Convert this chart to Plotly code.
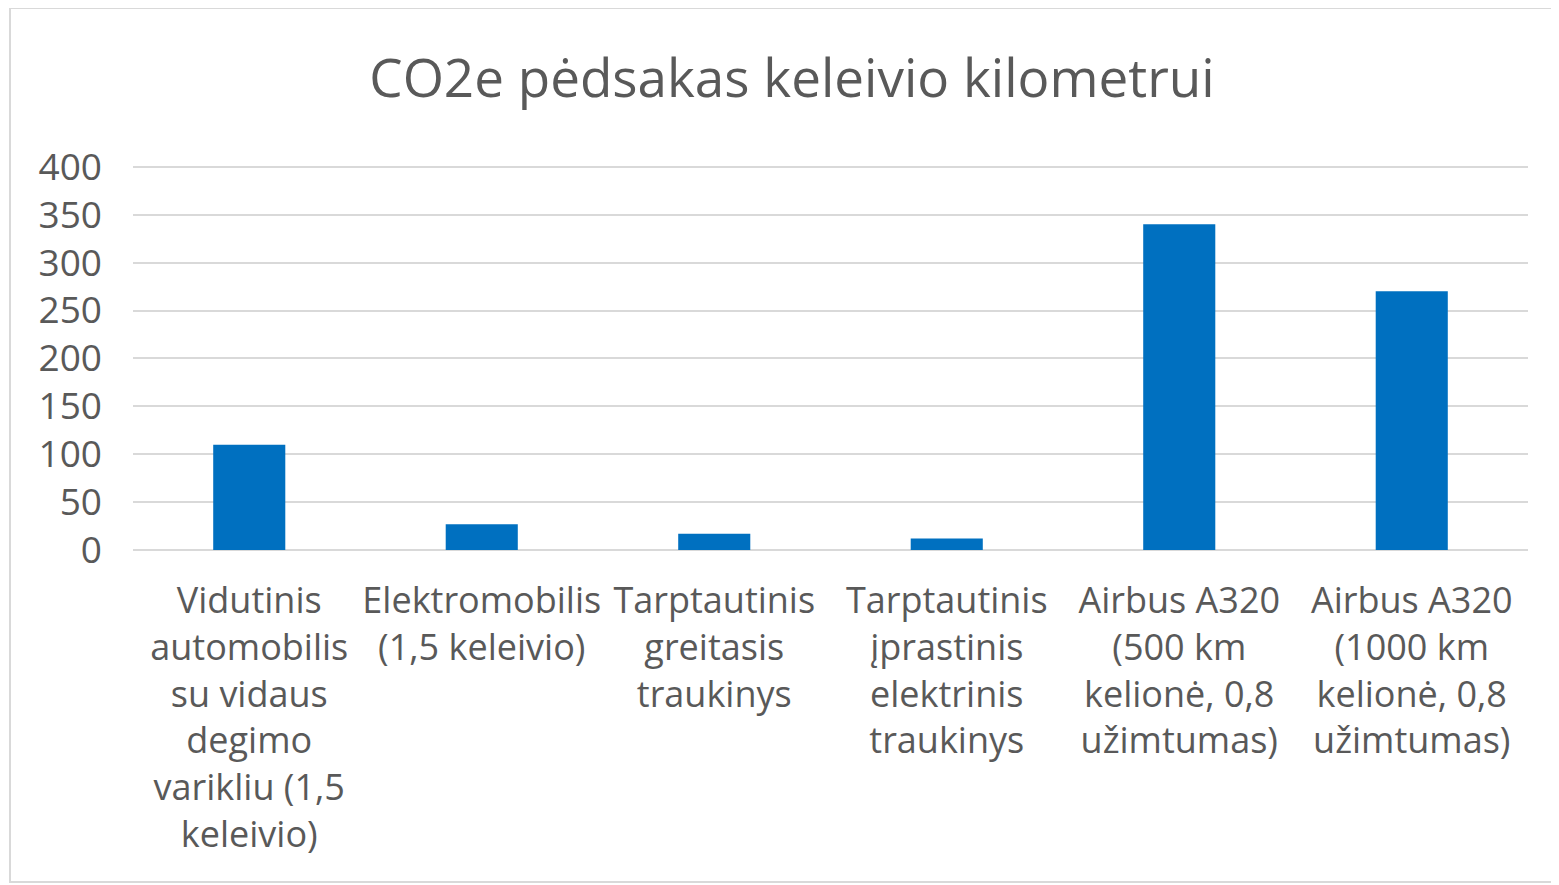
import plotly.graph_objects as go

categories = [
    "Vidutinis<br>automobilis<br>su vidaus<br>degimo<br>varikliu (1,5<br>keleivio)",
    "Elektromobilis<br>(1,5 keleivio)",
    "Tarptautinis<br>greitasis<br>traukinys",
    "Tarptautinis<br>įprastinis<br>elektrinis<br>traukinys",
    "Airbus A320<br>(500 km<br>kelionė, 0,8<br>užimtumas)",
    "Airbus A320<br>(1000 km<br>kelionė, 0,8<br>užimtumas)",
]
values = [110, 27, 17, 12, 340, 270]
y_ticks = [0, 50, 100, 150, 200, 250, 300, 350, 400]
title_text = "CO2e pėdsakas keleivio kilometrui"

FONT = "Open Sans, sans-serif"
TXT = "#595959"

W, H = 1551, 877
L, T, R, B = 125, 155, 31, 335

fig = go.Figure(go.Bar(x=categories, y=values, marker=dict(color="#0070C0", line=dict(width=0))))

fig.update_layout(
    width=W, height=H,
    margin=dict(l=L, r=R, t=T, b=B),
    paper_bgcolor="white", plot_bgcolor="white",
    bargap=0.69,
    showlegend=False,
    title=dict(text=title_text, x=784 / W, xanchor="center", y=1 - 70 / H, yanchor="middle",
               font=dict(family=FONT, size=53, color=TXT)),
    font=dict(family=FONT, size=36, color=TXT),
)
fig.update_yaxes(range=[0, 404], tickvals=y_ticks, showgrid=True, gridcolor="#d9d9d9", gridwidth=2,
                 zeroline=True, zerolinecolor="#d9d9d9", zerolinewidth=2, showline=False,
                 ticks="", ticklabelstandoff=30, tickfont=dict(family=FONT, size=37, color=TXT), fixedrange=True)
fig.update_xaxes(showline=False, ticks="", ticklabelstandoff=26, tickangle=0,
                 tickfont=dict(family=FONT, size=36, color=TXT), fixedrange=True)

# outer chart frame
pw = W - L - R
ph = H - T - B
fig.add_shape(type="rect", xref="paper", yref="paper",
              x0=(2 - L) / pw, x1=(W + 5 - L) / pw,
              y0=(T + ph - (H - 3)) / ph, y1=(T + ph - 0) / ph,
              line=dict(color="#d9d9d9", width=2), fillcolor="rgba(0,0,0,0)", layer="below")

fig.write_html("out.html")
